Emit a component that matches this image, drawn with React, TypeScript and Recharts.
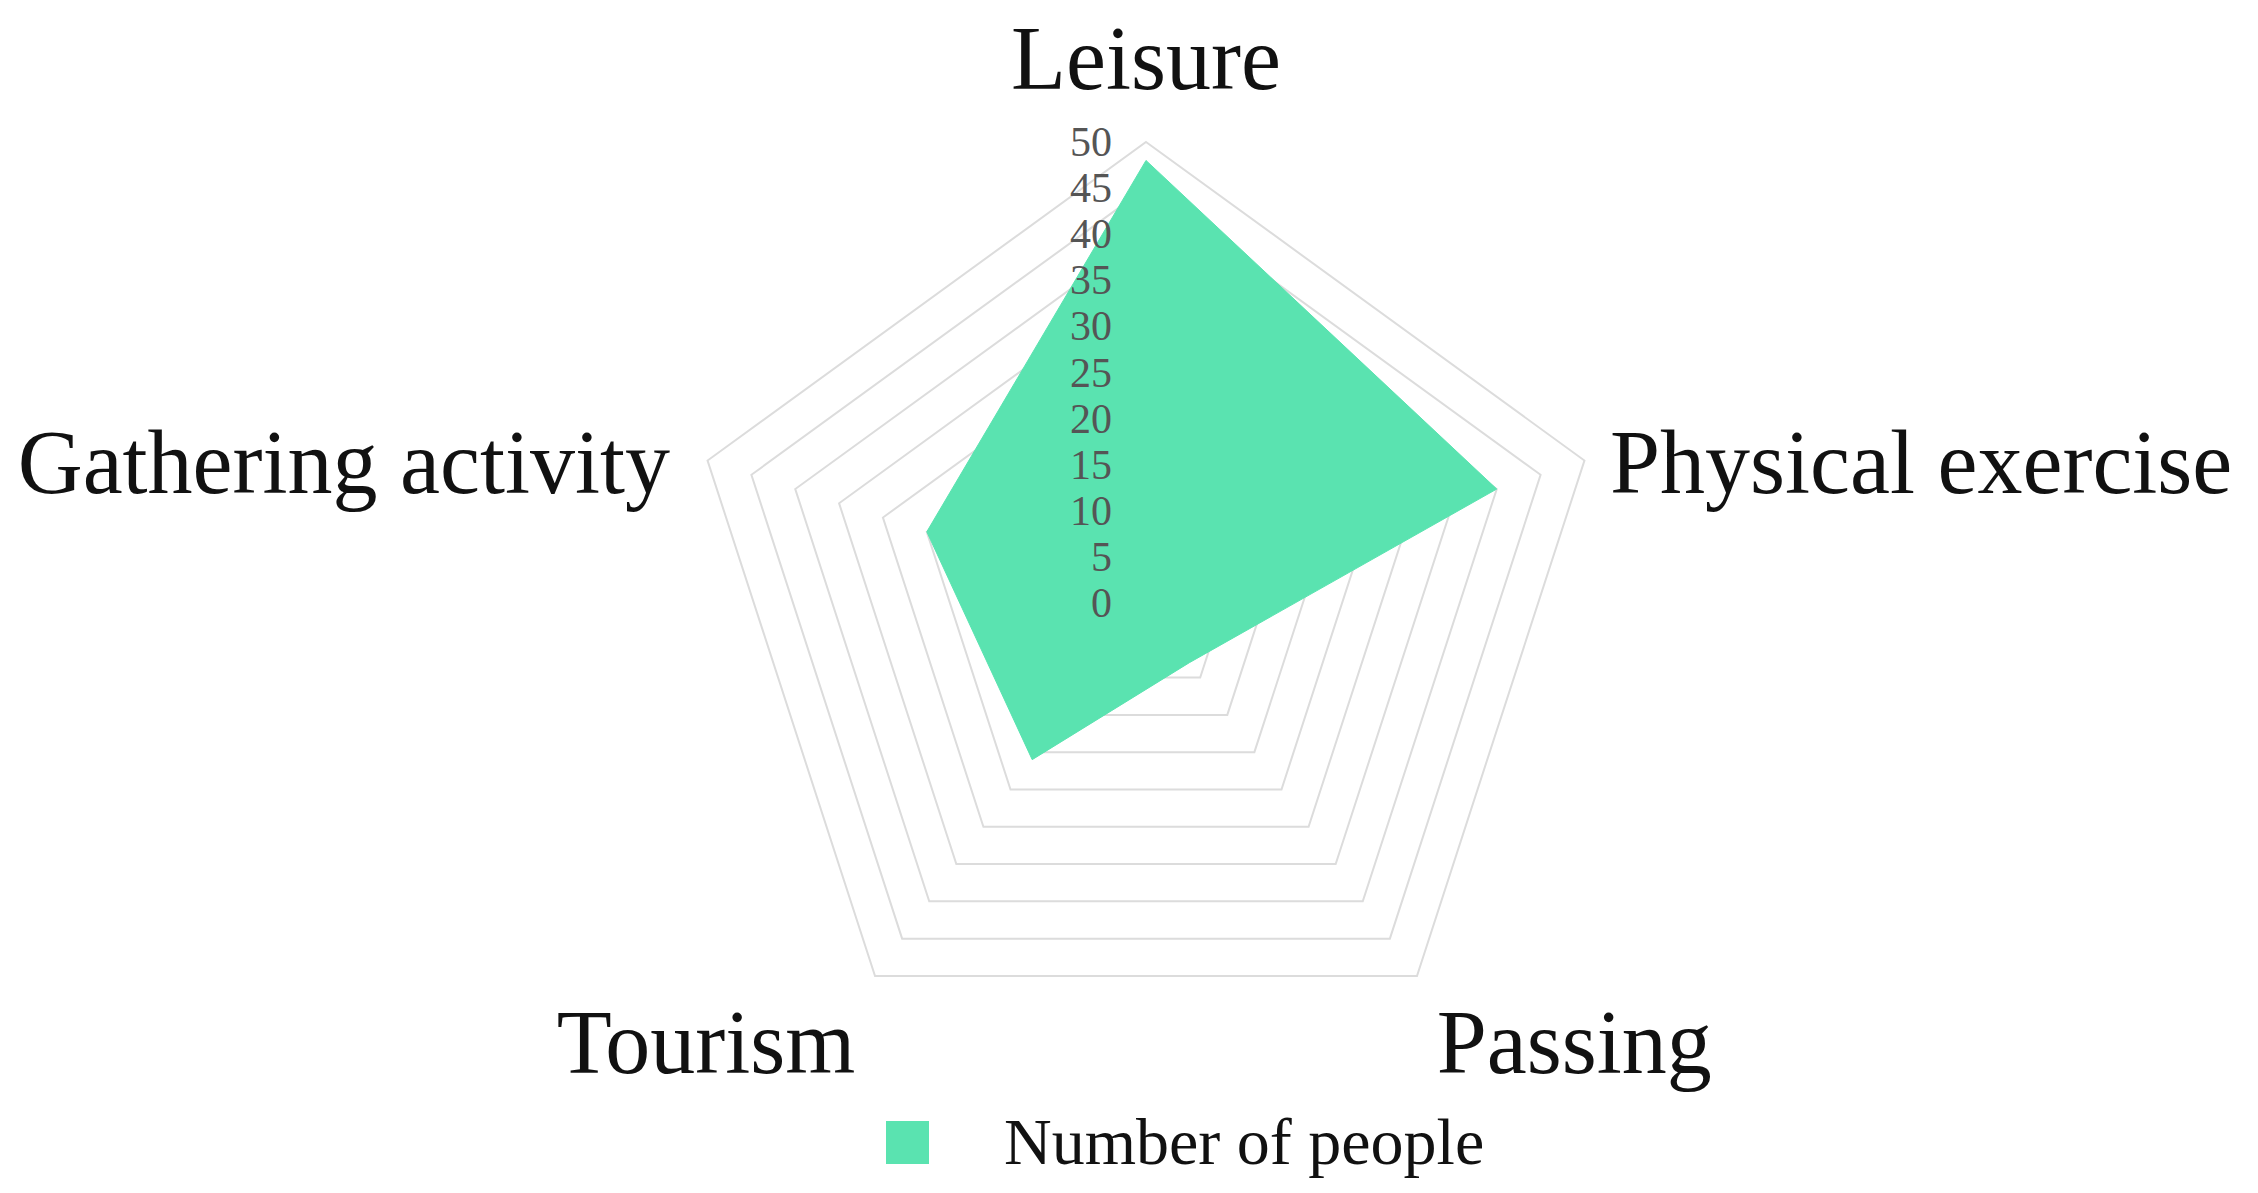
import React from 'react';
import {
    RadarChart,
    Radar,
    PolarGrid,
    PolarAngleAxis,
    PolarRadiusAxis,
    Legend,
} from 'recharts';

const categories = ['Leisure', 'Physical exercise', 'Passing', 'Tourism', 'Gathering activity'];
const peopleCounts = [48, 40, 8, 21, 25];
const radiusTicks = [0, 5, 10, 15, 20, 25, 30, 35, 40, 45, 50];
const seriesName = 'Number of people';

const FILL = '#5ae3b0';
const GRID = '#dcdcdc';
const FONT = '"Liberation Serif", "Times New Roman", serif';

const WIDTH = 2242;
const HEIGHT = 1177;
const CX = 1138;
const CY = 595;
const R = 461;

const data = categories.map((name, i) => ({ name, value: peopleCounts[i] }));

// category labels placed just outside the outer pentagon
const AngleTick = (props: any) => {
    const { payload } = props;
    const angle = (payload.coordinate * Math.PI) / 180;
    const cos = Math.cos(angle);
    const sin = Math.sin(angle);
    const x = CX + cos * (R + 8);
    const y = CY - sin * (R + 8);
    let anchor: 'start' | 'end' | 'middle' = 'middle';
    if (cos > 0.1) anchor = 'start';
    else if (cos < -0.1) anchor = 'end';
    let dx = 0;
    if (anchor === 'start') dx = sin > 0 ? 18 : 15;
    if (anchor === 'end') dx = sin > 0 ? -30 : -15;
    let dy = 35;
    if (sin > 0.5) dy = -45;
    else if (sin < -0.5) dy = 91;
    return (
        <text
            x={x + dx}
            y={y + dy}
            textAnchor={anchor}
            fill="#111"
            fontSize={90}
            fontFamily={FONT}
        >
            {payload.value}
        </text>
    );
};

const RadiusTick = (props: any) => {
    const { x, y, payload } = props;
    return (
        <text
            x={x - 34}
            y={y}
            textAnchor="end"
            dominantBaseline="central"
            fill="#555"
            fontSize={42}
            fontFamily={FONT}
        >
            {payload.value}
        </text>
    );
};

const LegendContent = (props: any) => {
    const item = props.payload && props.payload[0];
    return (
        <div style={{ display: 'flex', alignItems: 'center', height: 76 }}>
            <div style={{ width: 43, height: 43, background: FILL }} />
            <span
                style={{
                    marginLeft: 75,
                    fontSize: 66,
                    fontFamily: FONT,
                    color: '#111',
                    lineHeight: '76px',
                }}
            >
                {item ? item.value : seriesName}
            </span>
        </div>
    );
};

export default function App() {
    return (
        <div style={{ width: WIDTH, height: HEIGHT, background: '#fff' }}>
            <RadarChart
                width={WIDTH}
                height={HEIGHT}
                data={data}
                cx={CX}
                cy={CY}
                outerRadius={R}
                margin={{ top: 0, right: 0, bottom: 0, left: 0 }}
            >
                <PolarGrid gridType="polygon" radialLines={false} stroke={GRID} strokeWidth={2} />
                <PolarAngleAxis
                    dataKey="name"
                    tick={<AngleTick />}
                    tickLine={false}
                    axisLine={false}
                />
                <Radar
                    name={seriesName}
                    dataKey="value"
                    stroke={FILL}
                    strokeWidth={1}
                    fill={FILL}
                    fillOpacity={1}
                    isAnimationActive={false}
                />
                <PolarRadiusAxis
                    angle={90}
                    domain={[0, 50]}
                    ticks={radiusTicks}
                    tickCount={radiusTicks.length}
                    axisLine={false}
                    tickLine={false}
                    tick={<RadiusTick />}
                />
                <Legend
                    content={<LegendContent />}
                    wrapperStyle={{ left: 878, top: 1096, width: 700, bottom: 'auto' }}
                />
            </RadarChart>
        </div>
    );
}
